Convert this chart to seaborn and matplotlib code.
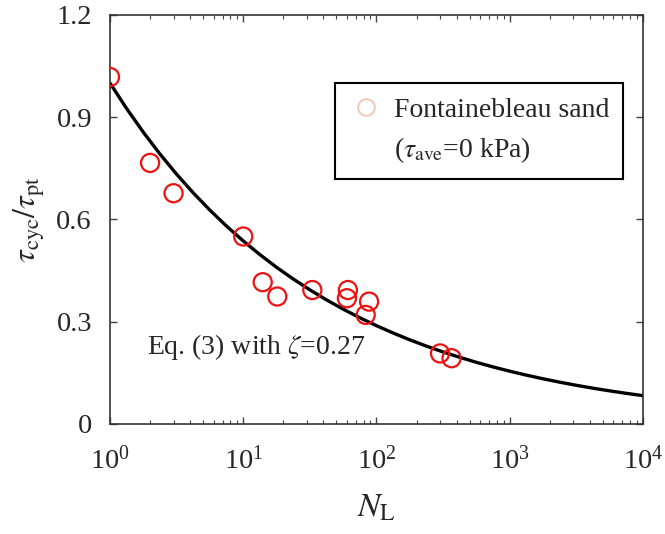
import numpy as np
import pandas as pd
import matplotlib
matplotlib.use("Agg")
import matplotlib.pyplot as plt
import seaborn as sns
from matplotlib.lines import Line2D
from matplotlib.ticker import LogLocator, NullFormatter

# measured points (Fontainebleau sand, tau_ave = 0 kPa)
n_cycles = [1, 2, 3, 10, 14, 18, 33, 61, 60, 88, 83, 300, 366]
stress_ratio = [1.018, 0.766, 0.677, 0.55, 0.416, 0.374, 0.393, 0.393, 0.369, 0.359, 0.32, 0.207, 0.193]

# Eq. (3) curve (zeta = 0.27), 8 points per decade
curve_n = [1, 1.334, 1.778, 2.371, 3.162, 4.217, 5.623, 7.499,
           10, 13.34, 17.78, 23.71, 31.62, 42.17, 56.23, 74.99,
           100, 133.4, 177.8, 237.1, 316.2, 421.7, 562.3, 749.9,
           1000, 1334, 1778, 2371, 3162, 4217, 5623, 7499, 10000]
curve_ratio = [1.0, 0.9252, 0.8561, 0.792, 0.7328, 0.678, 0.6273, 0.5804,
               0.537, 0.4969, 0.4597, 0.4254, 0.3936, 0.3641, 0.3369, 0.3117,
               0.2884, 0.2669, 0.2469, 0.2284, 0.2113, 0.1956, 0.1809, 0.1674,
               0.1549, 0.1433, 0.1326, 0.1227, 0.1135, 0.105, 0.0972, 0.0899, 0.0832]

yticks = [0, 0.3, 0.6, 0.9, 1.2]
ytick_labels = ["0", "0.3", "0.6", "0.9", "1.2"]

pts = pd.DataFrame({"N": n_cycles, "r": stress_ratio})
crv = pd.DataFrame({"N": curve_n, "r": curve_ratio})

sns.set_style("ticks")
plt.rcParams["font.family"] = ["Liberation Serif", "DejaVu Serif"]
plt.rcParams["mathtext.fontset"] = "stix"

fig = plt.figure(figsize=(6.65, 5.34), dpi=100)
ax = fig.add_axes([0.1654, 0.206, 0.8015, 0.766])

sns.lineplot(data=crv, x="N", y="r", color="black", linewidth=2.4, ax=ax, zorder=2)
sns.scatterplot(data=pts, x="N", y="r", marker="o", s=170, facecolor="none",
                edgecolor="#ee1111", linewidth=1.6, ax=ax, zorder=3)

ax.set_xscale("log")
ax.set_xlim(1, 1e4)
ax.set_ylim(0, 1.2)
ax.set_yticks(yticks)
ax.set_yticklabels(ytick_labels)
ax.xaxis.set_major_locator(LogLocator(base=10, numticks=10))
ax.xaxis.set_minor_locator(LogLocator(base=10, subs=np.arange(2, 10), numticks=20))
ax.xaxis.set_minor_formatter(NullFormatter())

ax.tick_params(axis="both", which="both", direction="in", top=True, right=True,
               labelsize=20.5, color="#444444")
ax.tick_params(axis="both", which="major", length=5, width=1)
ax.tick_params(axis="x", which="minor", length=3, width=0.8)
ax.tick_params(axis="x", which="major", pad=16)
ax.tick_params(axis="y", which="major", pad=13)
for sp in ax.spines.values():
    sp.set_linewidth(1.2)
    sp.set_color("#333333")

ax.set_xlabel(r"$N_{\rm L}$", fontsize=24, labelpad=13)
ax.set_ylabel(r"$\tau_{\rm cyc}/\tau_{\rm pt}$", fontsize=23, labelpad=7)

ax.text(1.9, 0.226, r"Eq. (3) with $\zeta$=0.27", fontsize=20, va="center")

# faded marker next to the first line only, second line without a handle
h_sand = Line2D([], [], marker="o", linestyle="none", markersize=12,
                markerfacecolor="none", markeredgecolor="#f2c8b8", markeredgewidth=1.4)
h_blank = Line2D([], [], linestyle="none")
leg = ax.legend([h_sand, h_blank], ["Fontainebleau sand", r"($\tau_{\rm ave}$=0 kPa)"],
                loc="upper right", bbox_to_anchor=(0.9625, 0.833), fontsize=20,
                frameon=True, fancybox=False, edgecolor="black", framealpha=1,
                handletextpad=0.4, borderpad=0.5, labelspacing=0.45, handlelength=1.2,
                borderaxespad=0)
leg.get_frame().set_linewidth(1.5)

fig.savefig("out.png", dpi=100)
